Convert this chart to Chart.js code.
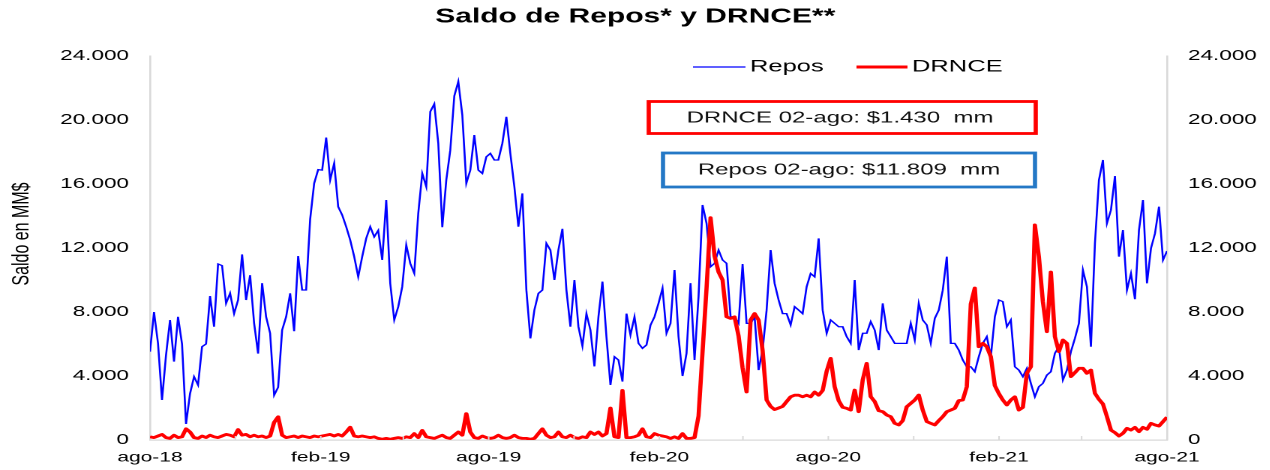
<!DOCTYPE html>
<html>
<head>
<meta charset="utf-8">
<script src="https://cdn.jsdelivr.net/npm/chart.js@4.4.1/dist/chart.umd.min.js"></script>
<style>
  html, body { margin: 0; padding: 0; background: #fff; overflow: hidden; }
  /* the source chart is a horizontally stretched Excel picture, so draw narrow and stretch */
  #wrap { width: 847px; height: 470px; transform: scaleX(1.5); transform-origin: 0 0; }
</style>
</head>
<body>
<div id="wrap"><canvas id="saldoChart"></canvas></div>
<script>
// Days since 01-ago-2018, quarterly ticks, labels every half year
const spanDays = 1096;
const tickDays = [0, 92, 184, 273, 365, 457, 549, 639, 731, 823, 915, 1004, 1096];
const tickLabels = ["ago-18", "", "feb-19", "", "ago-19", "", "feb-20", "", "ago-20", "", "feb-21", "", "ago-21"];
const yTicks = [0, 4000, 8000, 12000, 16000, 20000, 24000];

// Saldo de Repos (MM$), evenly spaced from ago-18 to 02-ago-21
const reposValues = [
  5520, 8000, 6040, 2500, 5300, 7500, 4900, 7700, 6000, 1000, 2900, 3960, 3440, 5830, 6000, 9000,
  7080, 11000, 10900, 8540, 9170, 7900, 8750, 11600, 8750, 10300, 7300, 5400, 9800, 7700, 6670, 2800,
  3300, 6870, 7700, 9170, 6800, 11500, 9375, 9375, 13800, 16040, 16900,
  16870, 18900, 16250, 17300, 14580, 14060, 13330, 12500, 11460, 10200, 11460, 12600, 13330, 12700, 13100, 11250,
  15000, 9790, 7500, 8330, 9580, 12190, 11040, 10420, 14170, 16660, 15830, 20520, 21000, 18540, 13300, 16250,
  18120, 21500, 22400, 20310, 16040, 16870, 19060, 16870, 16660, 17700, 17910,
  17500, 17500, 18540, 20200, 17900, 15830, 13330, 15410, 9370, 6350, 8120, 9160, 9370, 12290, 11870, 10000,
  11870, 13200, 9370, 7080, 10000, 7080, 5870, 7900, 6870, 4600, 7700, 9900, 6450, 3440, 5200, 5000,
  3650, 7900, 6560, 7700, 6040, 5730, 5940, 7180, 7700, 8540,
  9480, 6670, 7290, 10620, 6460, 4000, 5420, 9800, 5000, 8960, 14690, 13540, 10830, 11040, 11870, 11250,
  11040, 7700, 7700, 7290, 11000, 7290, 7290, 7700, 4370, 5620, 8120, 11870, 9790, 8750, 7900, 7900,
  7190, 8330, 8120, 7900, 9580, 10410, 10200, 12600, 8120, 6670, 7500,
  7290, 7080, 7080, 6460, 6040, 10000, 5620, 6670, 6670, 7400, 6870, 5620, 8540, 6870, 6460, 6040,
  6040, 6040, 6040, 7290, 6250, 8540, 7500, 7190, 6040, 7600, 8120, 9370, 11460, 6040, 6040, 5620,
  5000, 4580, 4580, 4270, 5210, 6040, 6460, 5210,
  7700, 8750, 8650, 7080, 7500, 4580, 4370, 3960, 4480, 3540, 2700, 3330, 3540, 4060, 4270, 5420,
  5830, 3750, 4370, 5520, 6350, 7290, 10620, 9580, 5830, 12290, 16250, 17500, 13540, 14370, 16500, 11460,
  13120, 9370, 10410, 8800, 13120, 15000, 9790, 11980, 12910, 14580, 11250, 11809
];

// Saldo DRNCE (MM$), same spacing
const drnceValues = [
  200, 150, 250, 350, 150, 100, 300, 150, 200, 700, 500, 150, 100, 250, 150, 300,
  200, 150, 250, 350, 300, 200, 650, 300, 350, 200, 300, 200, 250, 150, 250, 1100,
  1450, 300, 150, 200, 250, 150, 250, 200, 150, 250, 200,
  250, 300, 350, 250, 350, 250, 500, 800, 250, 200, 250, 200, 150, 200, 100, 50,
  100, 50, 100, 150, 100, 200, 150, 400, 150, 600, 200, 150, 100, 200, 300, 150,
  100, 300, 500, 300, 1650, 500, 150, 100, 250, 150, 100,
  150, 300, 150, 100, 150, 300, 150, 100, 100, 50, 100, 400, 700, 300, 150, 200,
  500, 200, 150, 300, 150, 100, 200, 150, 500, 350, 500, 250, 400, 2000, 200, 150,
  3100, 150, 150, 200, 300, 700, 200, 150, 400, 300,
  250, 200, 100, 200, 100, 400, 100, 100, 150, 1500, 5500, 9500, 13900, 11500, 10500, 10000,
  7700, 7600, 7700, 6500, 4500, 3000, 7500, 7900, 7500, 5600, 2500, 2100, 1900, 2000, 2100, 2400,
  2700, 2800, 2800, 2700, 2800, 2700, 3000, 2800, 3100, 4300, 5100,
  3330, 2460, 2040, 1980, 1870, 3120, 1770, 3750, 4790, 2710, 2400, 1830, 1770, 1560, 1460, 1040,
  940, 1210, 2080, 2290, 2500, 2810, 1870, 1150, 1040, 940, 1210, 1460, 1770, 1870, 1980, 2460,
  2500, 3330, 8500, 9500, 5830, 6040, 5830, 5210,
  3400, 2900, 2500, 2190, 2500, 2700, 1870, 2040, 4170, 4580, 13440, 11460, 8640, 6770, 10500, 6460,
  5520, 6250, 6040, 3960, 4210, 4480, 4480, 4170, 4370, 2920, 2540, 2250, 1460, 620, 460, 250,
  420, 730, 620, 790, 520, 790, 670, 1040, 940, 870, 1150, 1430
];

const fontFamily = "'Liberation Sans', Arial, sans-serif";
const axisColor = "#d9d9d9";

function toPoints(values) {
  const step = spanDays / (values.length - 1);
  return values.map((v, i) => ({ x: i * step, y: v }));
}

function fmtThousands(v) {
  return String(v).replace(/\B(?=(\d{3})+(?!\d))/g, ".");
}

// legend, value boxes, axis title and inner tick marks
const overlayPlugin = {
  id: "overlay",
  afterDraw(chart) {
    const ctx = chart.ctx;
    const area = chart.chartArea;
    const xScale = chart.scales.x;
    ctx.save();

    ctx.strokeStyle = axisColor;
    ctx.lineWidth = 1;
    tickDays.slice(1, -1).forEach(d => {
      const px = xScale.getPixelForValue(d);
      ctx.beginPath();
      ctx.moveTo(px, area.bottom);
      ctx.lineTo(px, area.bottom - 4);
      ctx.stroke();
    });

    ctx.fillStyle = "#000";
    ctx.font = "16px " + fontFamily;
    ctx.textAlign = "center";
    ctx.textBaseline = "middle";
    ctx.save();
    ctx.translate(14.7, 234);
    ctx.rotate(-Math.PI / 2);
    ctx.fillText("Saldo en MM$", 0, 0);
    ctx.restore();

    // legend
    ctx.font = "17px " + fontFamily;
    ctx.textAlign = "left";
    ctx.strokeStyle = "#0000ff";
    ctx.lineWidth = 1.3;
    ctx.beginPath(); ctx.moveTo(462, 67); ctx.lineTo(497, 67); ctx.stroke();
    ctx.fillText("Repos", 500, 67);
    ctx.strokeStyle = "#ff0000";
    ctx.lineWidth = 3;
    ctx.beginPath(); ctx.moveTo(571, 67); ctx.lineTo(605, 67); ctx.stroke();
    ctx.fillText("DRNCE", 608, 67);

    // value boxes
    ctx.font = "16px " + fontFamily;
    ctx.textAlign = "center";
    ctx.lineWidth = 2.8;
    ctx.fillStyle = "#fff";
    ctx.fillRect(432.5, 101.5, 258, 32);
    ctx.strokeStyle = "#ff0000";
    ctx.strokeRect(432.5, 101.5, 258, 32);
    ctx.fillStyle = "#111";
    ctx.fillText("DRNCE 02-ago: $1.430  mm", 560, 118);

    ctx.fillStyle = "#fff";
    ctx.fillRect(442, 153, 248, 34);
    ctx.strokeStyle = "#2478c6";
    ctx.strokeRect(442, 153, 248, 34);
    ctx.fillStyle = "#111";
    ctx.fillText("Repos 02-ago: $11.809  mm", 566, 170);

    ctx.restore();
  }
};

const yAxisBase = {
  min: 0,
  max: 24000,
  display: true,
  grid: { display: false, drawTicks: false },
  border: { color: axisColor, width: 1.3 },
  afterBuildTicks: s => { s.ticks = yTicks.map(v => ({ value: v })); },
  ticks: {
    padding: 14,
    color: "#000",
    font: { family: fontFamily, size: 15 },
    callback: v => fmtThousands(v)
  }
};

const ctx = document.getElementById("saldoChart").getContext("2d");
new Chart(ctx, {
  type: "line",
  data: {
    datasets: [
      {
        label: "DRNCE",
        data: toPoints(drnceValues),
        borderColor: "#ff0000",
        borderWidth: 2.8,
        borderJoinStyle: "round",
        pointRadius: 0,
        tension: 0,
        fill: false
      },
      {
        label: "Repos",
        data: toPoints(reposValues),
        borderColor: "#0000ff",
        borderWidth: 1.3,
        pointRadius: 0,
        tension: 0,
        fill: false
      }
    ]
  },
  options: {
    animation: false,
    responsive: true,
    maintainAspectRatio: false,
    devicePixelRatio: 2,
    layout: { padding: 0 },
    plugins: {
      legend: { display: false },
      tooltip: { enabled: false },
      title: {
        display: true,
        text: "Saldo de Repos* y DRNCE**",
        color: "#000",
        font: { family: fontFamily, size: 20, weight: "bold" },
        padding: { top: 5, bottom: 27 }
      }
    },
    scales: {
      x: {
        type: "linear",
        min: 0,
        max: spanDays,
        grid: { display: false, drawTicks: false },
        border: { color: axisColor, width: 1.3 },
        afterBuildTicks: s => { s.ticks = tickDays.map(v => ({ value: v })); },
        afterFit: s => { s.height = 30; },
        ticks: {
          autoSkip: false,
          maxRotation: 0,
          padding: 9,
          color: "#000",
          font: { family: fontFamily, size: 14 },
          callback: v => tickLabels[tickDays.indexOf(v)]
        }
      },
      y: Object.assign({}, yAxisBase, {
        position: "left",
        afterFit: s => { s.width = 100; }
      }),
      y2: Object.assign({}, yAxisBase, {
        position: "right",
        afterFit: s => { s.width = 69; }
      })
    }
  },
  plugins: [overlayPlugin]
});
</script>
</body>
</html>
